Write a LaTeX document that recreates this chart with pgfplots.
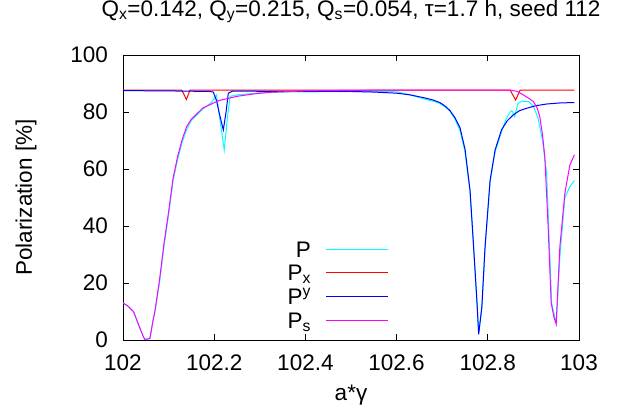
\documentclass[border=0pt]{standalone}
\usepackage{fontspec}
\setmainfont{Liberation Sans}
\usepackage{pgfplots}
\pgfplotsset{compat=1.18}
\usetikzlibrary{calc}
\newcommand\gfont{\fontsize{22.5bp}{27bp}\selectfont}
\definecolor{gcyan}{rgb}{0,1,1}
\definecolor{gred}{rgb}{1,0,0}
\definecolor{gblue}{rgb}{0,0,1}
\definecolor{gmag}{rgb}{1,0,1}
\begin{document}
\begin{tikzpicture}
\begin{axis}[
  scale only axis,
  width=456bp, height=285bp,
  xmin=102, xmax=103, ymin=0, ymax=100,
  xtick={102,102.2,102.4,102.6,102.8,103},
  xticklabels={102,102.2,102.4,102.6,102.8,103},
  ytick={0,20,40,60,80,100},
  yticklabels={0,20,40,60,80,100},
  tick pos=both, tick align=inside,
  major tick length=6bp,
  axis line style={line width=0.9bp},
  every tick/.style={black, line width=0.7bp},
  xticklabel style={font=\gfont, inner sep=0pt, anchor=north, yshift=-15bp},
  yticklabel style={font=\gfont, inner sep=0pt, anchor=east, xshift=-15bp},
  title={Q\textsubscript{x}=0.142, Q\textsubscript{y}=0.215, Q\textsubscript{s}=0.054, τ=1.7 h, seed 112},
  title style={font=\gfont, at={(axis description cs:0.5,1)}, anchor=base, yshift=33bp, inner sep=0pt},
  xlabel={a*γ},
  xlabel style={font=\gfont, at={(axis description cs:0.5,0)}, anchor=center, yshift=-55bp},
  ylabel={Polarization [\%]},
  ylabel style={font=\gfont, at={(axis description cs:0,0.5)}, anchor=center, yshift=97bp},
  legend plot pos=right,
  legend cell align=right,
  legend image code/.code={\draw[#1] (0bp,0bp) -- (62bp,0bp);},
  legend style={draw=none, fill=none, inner sep=0pt, outer sep=0pt, font=\gfont,
    at={(0.5833,0.3526)}, anchor=north east, column sep=15bp, row sep=4.2bp,
    nodes={inner sep=0pt, text height=17.5bp, text depth=2bp}},
  every axis plot/.append style={line width=1bp},
]
% P
\addplot[gcyan] coordinates {
(102.000,13) (102.010,12) (102.023,10) (102.035,5) (102.045,1) (102.048,0.2)
(102.059,0.5) (102.066,7) (102.070,10) (102.080,20) (102.090,33) (102.100,44)
(102.110,56) (102.120,63.5) (102.130,69.5) (102.140,74) (102.150,77) (102.175,81)
(102.195,83.5) (102.205,86) (102.212,78) (102.222,66.7) (102.229,78) (102.235,85.5)
(102.250,86) (102.300,86.7) (102.350,87) (102.500,87.2) (102.600,87.1) (102.630,86)
(102.660,84.6) (102.680,83.8) (102.695,83) (102.707,81.7) (102.717,80.3) (102.728,77.5)
(102.739,73.5) (102.750,66) (102.761,52) (102.768,34.5) (102.776,13.5) (102.780,2.5)
(102.787,11.5) (102.794,32.5) (102.805,55.5) (102.816,66) (102.830,73) (102.840,77.5)
(102.849,80) (102.853,80.5) (102.859,78.4) (102.866,83) (102.875,83.8) (102.890,83.6)
(102.900,82) (102.910,78) (102.920,70) (102.929,58.5) (102.940,13) (102.950,5.8)
(102.958,29) (102.969,50) (102.980,53.8) (102.990,56)
};
\addlegendentry{P}
% Px
\addplot[gred] coordinates {
(102.000,87.7) (102.129,87.7) (102.139,84.4) (102.147,87.7) (102.849,87.7)
(102.861,84.2) (102.871,87.7) (102.990,87.7)
};
\addlegendentry{P\textsubscript{x}}
% Py
\addplot[gblue] coordinates {
(102.000,87.5) (102.100,87.4) (102.190,87.2) (102.198,87) (102.205,84) (102.212,79)
(102.220,73.7) (102.226,80) (102.231,86.6) (102.240,87.3) (102.500,87.2) (102.550,87)
(102.600,86.6) (102.630,86) (102.660,85) (102.680,84.2) (102.695,83.3) (102.707,82)
(102.717,80.5) (102.728,78) (102.739,74.5) (102.750,67) (102.761,52.6) (102.768,35)
(102.776,14) (102.780,2) (102.787,11.7) (102.794,32.7) (102.805,56) (102.816,66.7)
(102.830,73.7) (102.843,77) (102.856,79) (102.870,80.5) (102.885,81.3) (102.905,82.2)
(102.929,82.8) (102.960,83.2) (102.990,83.3)
};
\addlegendentry{P\textsuperscript{y}}
% Ps
\addplot[gmag] coordinates {
(102.000,13) (102.010,12) (102.023,10) (102.035,5) (102.045,1) (102.048,0.2)
(102.059,0.5) (102.066,7) (102.070,10) (102.080,21) (102.090,34) (102.100,45)
(102.110,57) (102.120,64.5) (102.130,70.5) (102.140,75) (102.150,77.5) (102.175,81.4)
(102.210,84) (102.250,85.5) (102.285,86.3) (102.320,86.9) (102.400,87.4) (102.500,87.6)
(102.600,87.7) (102.850,87.7) (102.865,87.2) (102.878,86) (102.890,84.8) (102.900,83.6)
(102.908,81.5) (102.914,78.4) (102.920,72) (102.925,64.3) (102.932,41) (102.939,13)
(102.945,8) (102.950,5.6) (102.958,32.7) (102.969,51.5) (102.980,61.4) (102.990,65)
};
\addlegendentry{P\textsubscript{s}}
\end{axis}
\pgfresetboundingbox
\path ($(current axis.south west)+(-123bp,-74bp)$) rectangle ($(current axis.north east)+(42bp,55bp)$);
\end{tikzpicture}
\end{document}
